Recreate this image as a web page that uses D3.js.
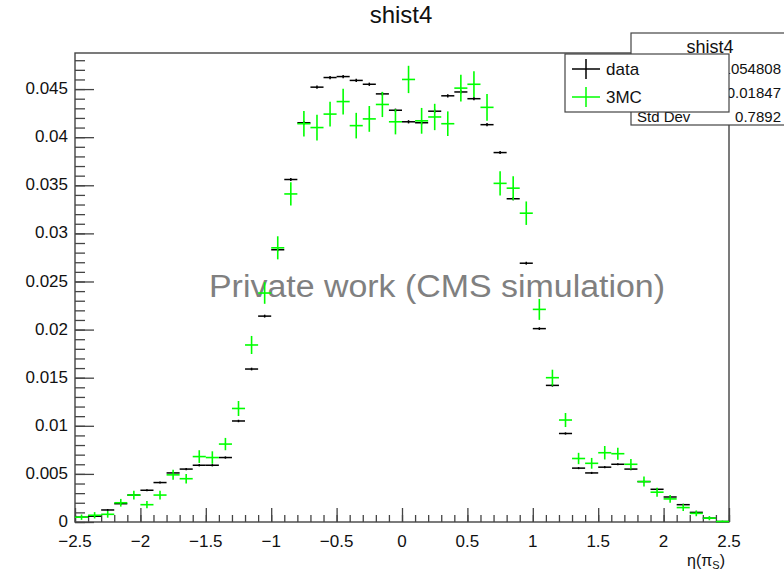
<!DOCTYPE html>
<html>
<head>
<meta charset="utf-8">
<script src="https://cdn.jsdelivr.net/npm/d3@7"></script>
<style>
  html, body { margin: 0; padding: 0; background: #fff; overflow: hidden; }
  svg { display: block; }
  text { font-family: "Liberation Sans", Arial, Helvetica, sans-serif; }
</style>
</head>
<body>
<svg id="chart" width="784" height="571"></svg>
<script>
// Histogram binning: 50 bins of width 0.1 over eta in [-2.5, 2.5]
const binEdges = [-2.5, 2.5];
const binWidth = 0.1;
const binCenters = [
  -2.45, -2.35, -2.25, -2.15, -2.05, -1.95, -1.85, -1.75, -1.65, -1.55,
  -1.45, -1.35, -1.25, -1.15, -1.05, -0.95, -0.85, -0.75, -0.65, -0.55,
  -0.45, -0.35, -0.25, -0.15, -0.05, 0.05, 0.15, 0.25, 0.35, 0.45,
  0.55, 0.65, 0.75, 0.85, 0.95, 1.05, 1.15, 1.25, 1.35, 1.45,
  1.55, 1.65, 1.75, 1.85, 1.95, 2.05, 2.15, 2.25, 2.35, 2.45
];

// Normalised contents, "data"
const dataValues = [
  0.0005, 0.0006, 0.00125, 0.0019, 0.0028, 0.0033, 0.0041, 0.0051, 0.0055, 0.0059,
  0.0059, 0.0067, 0.0105, 0.0159, 0.0214, 0.0283, 0.0356, 0.0415, 0.0452, 0.0462,
  0.0463, 0.0459, 0.0455, 0.0445, 0.0428, 0.0416, 0.0415, 0.0427, 0.0443, 0.0447,
  0.0440, 0.0413, 0.0384, 0.0336, 0.0269, 0.0201, 0.0142, 0.0092, 0.0056, 0.0051,
  0.0057, 0.0060, 0.0055, 0.0042, 0.0034, 0.0026, 0.0018, 0.0010, 0.0004, 0.00005
];
const dataErrors = [
  0.00006, 0.00007, 0.00009, 0.0001, 0.0001, 0.0001, 0.00011, 0.00011, 0.00011, 0.00012,
  0.00012, 0.00012, 0.00013, 0.00014, 0.00015, 0.00015, 0.00016, 0.00017, 0.00017, 0.00017,
  0.00017, 0.00017, 0.00017, 0.00017, 0.00017, 0.00017, 0.00017, 0.00017, 0.00017, 0.00017,
  0.00017, 0.00017, 0.00016, 0.00016, 0.00015, 0.00014, 0.00013, 0.00012, 0.00011, 0.00011,
  0.00011, 0.00011, 0.00011, 0.0001, 0.0001, 0.0001, 0.00009, 0.00008, 0.00006, 0.00003
];

// Normalised contents, "3MC"
const mcValues = [
  0.0005, 0.0007, 0.0008, 0.0020, 0.0028, 0.0018, 0.0028, 0.0049, 0.0045, 0.0068,
  0.0067, 0.0081, 0.0118, 0.0184, 0.0238, 0.0285, 0.0341, 0.0414, 0.0410, 0.0424,
  0.0437, 0.0412, 0.0419, 0.0434, 0.0416, 0.0460, 0.0417, 0.0421, 0.0414, 0.0451,
  0.0455, 0.0431, 0.0352, 0.0347, 0.0321, 0.0221, 0.0150, 0.0106, 0.0066, 0.0061,
  0.0072, 0.0071, 0.0060, 0.0042, 0.0031, 0.0024, 0.0015, 0.0009, 0.0004, 0.00005
];
const mcErrors = [
  0.00028, 0.00033, 0.00035, 0.0004, 0.00045, 0.00037, 0.00045, 0.00052, 0.0005, 0.00066,
  0.00065, 0.00064, 0.00078, 0.00094, 0.00112, 0.0012, 0.00121, 0.00133, 0.00134, 0.00128,
  0.00133, 0.00133, 0.00134, 0.00131, 0.00131, 0.00142, 0.00134, 0.00137, 0.00128, 0.00138,
  0.00135, 0.00139, 0.00125, 0.00125, 0.00122, 0.00109, 0.00083, 0.00073, 0.00059, 0.00056,
  0.0007, 0.00062, 0.00055, 0.00052, 0.00047, 0.0004, 0.00036, 0.0003, 0.00022, 0.0001
];

// Axis ticks
const xTickValues = [-2.5, -2, -1.5, -1, -0.5, 0, 0.5, 1, 1.5, 2, 2.5];
const xTickLabels = ["\u22122.5", "\u22122", "\u22121.5", "\u22121", "\u22120.5", "0", "0.5", "1", "1.5", "2", "2.5"];
const yTickValues = [0, 0.005, 0.01, 0.015, 0.02, 0.025, 0.03, 0.035, 0.04, 0.045];
const yTickLabels = ["0", "0.005", "0.01", "0.015", "0.02", "0.025", "0.03", "0.035", "0.04", "0.045"];
const yMax = 0.04875;

// Statistics box and legend text
const statsTitle = "shist4";
const statsNames = ["Entries", "Mean", "Std Dev"];
const statsValues = ["1054808", "0.01847", "0.7892"];
const seriesNames = ["data", "3MC"];
const seriesColors = ["#000000", "#00ff00"];

const frame = { left: 75, right: 729, top: 53, bottom: 522 };

const svg = d3.select("#chart");

const x = d3.scaleLinear().domain(binEdges).range([frame.left, frame.right]);
const y = d3.scaleLinear().domain([0, yMax]).range([frame.bottom, frame.top]);

// Title
svg.append("text")
  .attr("x", 401).attr("y", 23)
  .attr("text-anchor", "middle")
  .attr("font-size", 24)
  .attr("fill", "#111")
  .text("shist4");

// Frame box
svg.append("rect")
  .attr("x", frame.left).attr("y", frame.top)
  .attr("width", frame.right - frame.left)
  .attr("height", frame.bottom - frame.top)
  .attr("fill", "none")
  .attr("stroke", "#444")
  .attr("stroke-width", 1.4);

// Y axis: minor ticks every 0.001, major ticks with labels every 0.005
const yMinor = d3.range(0, yMax + 1e-9, 0.001);
const gy = svg.append("g")
  .attr("transform", `translate(${frame.left},0)`)
  .call(d3.axisRight(y).tickValues(yMinor).tickSize(10).tickFormat(""));
gy.select(".domain").remove();
gy.selectAll(".tick line").attr("stroke", "#444").attr("stroke-width", 1.3);

const gyM = svg.append("g")
  .attr("transform", `translate(${frame.left},0)`)
  .call(d3.axisRight(y).tickValues(yTickValues).tickSize(19).tickFormat(""));
gyM.select(".domain").remove();
gyM.selectAll(".tick line").attr("stroke", "#444").attr("stroke-width", 1.3);

svg.append("g").selectAll("text")
  .data(yTickValues)
  .join("text")
  .attr("x", 68)
  .attr("y", d => y(d))
  .attr("dy", "0.3em")
  .attr("text-anchor", "end")
  .attr("font-size", 17)
  .attr("fill", "#111")
  .text((d, i) => yTickLabels[i]);

// X axis: minor ticks every 0.1, major ticks with labels every 0.5
const xMinor = d3.range(-2.5, 2.5 + 1e-9, 0.1);
const gx = svg.append("g")
  .attr("transform", `translate(0,${frame.bottom})`)
  .call(d3.axisTop(x).tickValues(xMinor).tickSize(7).tickFormat(""));
gx.select(".domain").remove();
gx.selectAll(".tick line").attr("stroke", "#444").attr("stroke-width", 1.3);

const gxM = svg.append("g")
  .attr("transform", `translate(0,${frame.bottom})`)
  .call(d3.axisTop(x).tickValues(xTickValues).tickSize(14).tickFormat(""));
gxM.select(".domain").remove();
gxM.selectAll(".tick line").attr("stroke", "#444").attr("stroke-width", 1.3);

svg.append("g").selectAll("text")
  .data(xTickValues)
  .join("text")
  .attr("x", d => x(d))
  .attr("y", 546.5)
  .attr("text-anchor", "middle")
  .attr("font-size", 17)
  .attr("fill", "#111")
  .text((d, i) => xTickLabels[i]);

// X axis title
const xTitle = svg.append("text")
  .attr("x", 725).attr("y", 566)
  .attr("text-anchor", "end")
  .attr("font-size", 16)
  .attr("fill", "#111");
xTitle.append("tspan").text("\u03b7(\u03c0");
xTitle.append("tspan").attr("font-size", 11).attr("dy", 3).text("S");
xTitle.append("tspan").attr("dy", -3).text(")");

// Watermark
svg.append("text")
  .attr("x", 209).attr("y", 297)
  .attr("font-family", "Lato, 'Open Sans', sans-serif")
  .attr("font-size", 31)
  .attr("fill", "#808080")
  .attr("textLength", 456)
  .attr("lengthAdjust", "spacingAndGlyphs")
  .text("Private work (CMS simulation)");

// Error-bar crosses for one histogram
function drawHist(values, errors, color, width) {
  const g = svg.append("g")
    .attr("stroke", color)
    .attr("stroke-width", width)
    .attr("fill", "none");
  const pts = binCenters.map((c, i) => ({ c, v: values[i], e: errors[i] }));
  g.selectAll("line.h")
    .data(pts)
    .join("line")
    .attr("class", "h")
    .attr("x1", d => x(d.c - binWidth / 2))
    .attr("x2", d => x(d.c + binWidth / 2))
    .attr("y1", d => y(d.v))
    .attr("y2", d => y(d.v));
  g.selectAll("line.v")
    .data(pts)
    .join("line")
    .attr("class", "v")
    .attr("x1", d => x(d.c))
    .attr("x2", d => x(d.c))
    .attr("y1", d => y(Math.max(0, d.v - d.e)))
    .attr("y2", d => y(d.v + d.e));
}

drawHist(dataValues, dataErrors, seriesColors[0], 1.5);
drawHist(mcValues, mcErrors, seriesColors[1], 1.6);

// Statistics box (runs past the right edge of the canvas)
const stats = svg.append("g");
stats.append("rect")
  .attr("x", 631).attr("y", 33)
  .attr("width", 180).attr("height", 92)
  .attr("fill", "#fff")
  .attr("stroke", "#444")
  .attr("stroke-width", 1.2);
stats.append("text")
  .attr("x", 710).attr("y", 53)
  .attr("text-anchor", "middle")
  .attr("font-size", 18)
  .attr("fill", "#111")
  .text(statsTitle);
statsNames.forEach((name, i) => {
  const by = 74 + i * 24;
  stats.append("text")
    .attr("x", 637).attr("y", by)
    .attr("font-size", 15).attr("fill", "#111")
    .text(name);
  stats.append("text")
    .attr("x", 781).attr("y", by)
    .attr("text-anchor", "end")
    .attr("font-size", 15).attr("fill", "#111")
    .text(statsValues[i]);
});

// Legend
const legend = svg.append("g");
legend.append("rect")
  .attr("x", 565).attr("y", 54)
  .attr("width", 164).attr("height", 58)
  .attr("fill", "#fff")
  .attr("stroke", "#444")
  .attr("stroke-width", 1.2);
seriesNames.forEach((name, i) => {
  const cy = 69 + i * 28;
  legend.append("line")
    .attr("x1", 572).attr("x2", 600)
    .attr("y1", cy).attr("y2", cy)
    .attr("stroke", seriesColors[i]).attr("stroke-width", 1.5);
  legend.append("line")
    .attr("x1", 586).attr("x2", 586)
    .attr("y1", cy - 10).attr("y2", cy + 10)
    .attr("stroke", seriesColors[i]).attr("stroke-width", 1.5);
  legend.append("text")
    .attr("x", 606).attr("y", cy + 6)
    .attr("font-size", 17).attr("fill", "#111")
    .text(name);
});
</script>
</body>
</html>
